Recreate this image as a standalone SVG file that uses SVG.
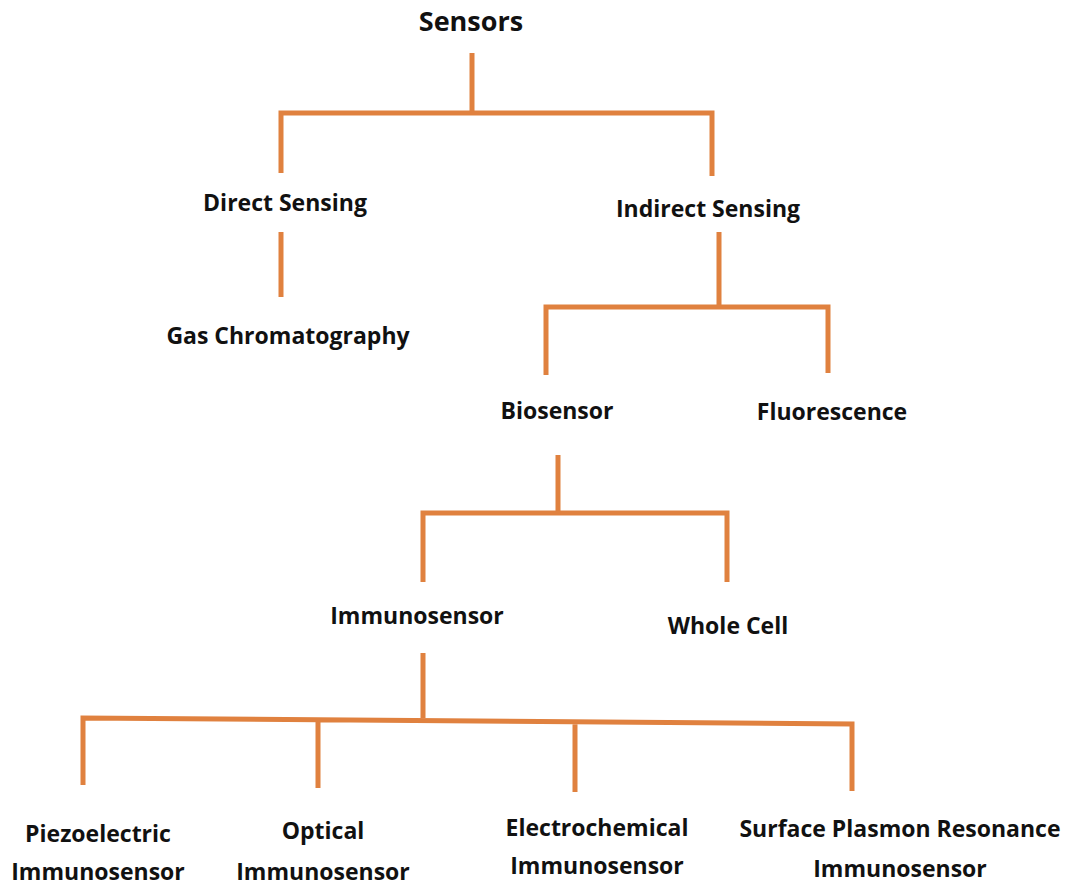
<svg xmlns="http://www.w3.org/2000/svg" width="1070" height="886" viewBox="0 0 1070 886">
<style>
.t{font-family:"Open Sans","Noto Sans",sans-serif;font-weight:bold;font-size:23px;fill:#111;text-anchor:middle}
.h{font-size:27px}
.c{stroke:#E0813F;stroke-width:5;fill:none;stroke-linecap:butt;stroke-linejoin:miter}
</style>
<rect width="1070" height="886" fill="#fff"/>
<g id="connectors">
<path class="c" d="M472 53V113M281 173V113H712V176"/>
<path class="c" d="M281 232V297"/>
<path class="c" d="M719 232V307M546 375V307H828V373"/>
<path class="c" d="M558 455V513M423 582V513H727V582"/>
<path class="c" d="M423 653V718M83 785V718L852 724V791M318 720V788M575 722V792"/>
</g>
<g id="n-sensors"><text class="t h" x="471" y="31">Sensors</text></g>
<g id="n-direct"><text class="t" x="285" y="211">Direct Sensing</text></g>
<g id="n-indirect"><text class="t" x="708" y="217">Indirect Sensing</text></g>
<g id="n-gc"><text class="t" x="288" y="344">Gas Chromatography</text></g>
<g id="n-bio"><text class="t" x="557" y="419">Biosensor</text></g>
<g id="n-fluor"><text class="t" x="832" y="420">Fluorescence</text></g>
<g id="n-immuno"><text class="t" x="417" y="624">Immunosensor</text></g>
<g id="n-whole"><text class="t" x="728" y="634">Whole Cell</text></g>
<g id="n-piezo"><text class="t" x="98" y="842">Piezoelectric</text><text class="t" x="98" y="880">Immunosensor</text></g>
<g id="n-optical"><text class="t" x="323" y="839">Optical</text><text class="t" x="323" y="880">Immunosensor</text></g>
<g id="n-electro"><text class="t" x="597" y="836">Electrochemical</text><text class="t" x="597" y="874">Immunosensor</text></g>
<g id="n-spr"><text class="t" x="900" y="837">Surface Plasmon Resonance</text><text class="t" x="900" y="877">Immunosensor</text></g>
</svg>
